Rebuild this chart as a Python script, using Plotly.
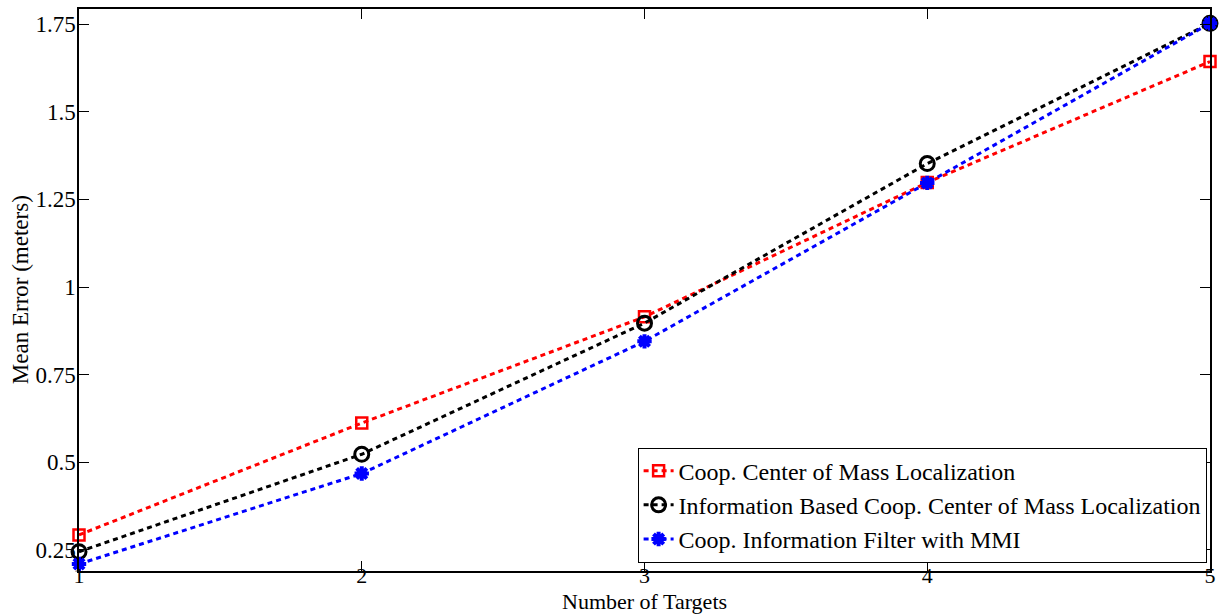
import plotly.graph_objects as go

# Mean localization error versus number of tracked targets
num_targets = [1, 2, 3, 4, 5]
com_error = [0.293, 0.612, 0.915, 1.298, 1.643]
info_com_error = [0.245, 0.523, 0.897, 1.352, 1.752]
mmi_error = [0.210, 0.468, 0.845, 1.297, 1.752]

y_ticks = [0.25, 0.5, 0.75, 1, 1.25, 1.5, 1.75]
y_tick_text = ["0.25", "0.5", "0.75", "1", "1.25", "1.5", "1.75"]

font_family = "Liberation Serif"
dash_style = "5px,4px"

fig = go.Figure()

fig.add_trace(go.Scatter(
    x=num_targets, y=com_error, mode="lines+markers",
    name="Coop. Center of Mass Localization",
    line=dict(color="#ff0000", width=3, dash=dash_style),
    marker=dict(symbol="square-open", size=11, color="#ff0000",
                line=dict(color="#ff0000", width=2.5)),
    cliponaxis=False,
))
fig.add_trace(go.Scatter(
    x=num_targets, y=info_com_error, mode="lines+markers",
    name="Information Based Coop. Center of Mass Localization",
    line=dict(color="#000000", width=3, dash=dash_style),
    marker=dict(symbol="circle-open", size=14, color="#000000",
                line=dict(color="#000000", width=3)),
    cliponaxis=False,
))
fig.add_trace(go.Scatter(
    x=num_targets, y=mmi_error, mode="lines+markers",
    name="Coop. Information Filter with MMI",
    line=dict(color="#0000ff", width=3, dash=dash_style),
    marker=dict(symbol="asterisk-open", size=12, color="#0000ff",
                line=dict(color="#0000ff", width=4)),
    cliponaxis=False,
))

axis_common = dict(
    showline=True, linecolor="black", linewidth=1.5, mirror="ticks",
    ticks="inside", ticklen=10, tickwidth=1, tickcolor="black",
    showgrid=False, zeroline=False,
    tickfont=dict(family=font_family, size=23, color="black"),
)

fig.update_xaxes(range=[1, 5], tickvals=num_targets,
                 ticktext=[str(v) for v in num_targets],
                 ticklabelstandoff=-16,
                 **{**axis_common,
                    "tickfont": dict(family=font_family, size=22, color="black")})
fig.update_yaxes(range=[0.19, 1.793], tickvals=y_ticks,
                 ticktext=y_tick_text, ticklabelstandoff=-3, **axis_common)

title_font = dict(family=font_family, size=22, color="black")
fig.add_annotation(text="Number of Targets", xref="paper", yref="paper",
                   x=0.5, y=-0.054, xanchor="center", yanchor="middle",
                   showarrow=False, font=title_font, borderpad=0)
fig.add_annotation(text="Mean Error (meters)", xref="paper", yref="paper",
                   x=-0.052, y=0.5, xanchor="center", yanchor="middle",
                   textangle=-90, showarrow=False,
                   font=dict(family=font_family, size=23, color="black"))

fig.update_layout(
    width=1226, height=614,
    margin=dict(l=79, r=16, t=7, b=43),
    paper_bgcolor="white", plot_bgcolor="white",
    showlegend=True,
    legend=dict(
        x=0.997, y=0.015, xanchor="right", yanchor="bottom",
        bgcolor="white", bordercolor="black", borderwidth=1,
        font=dict(family=font_family, size=24, color="black"),
        itemwidth=30, tracegroupgap=0,
    ),
)

fig.write_html("out.html")
